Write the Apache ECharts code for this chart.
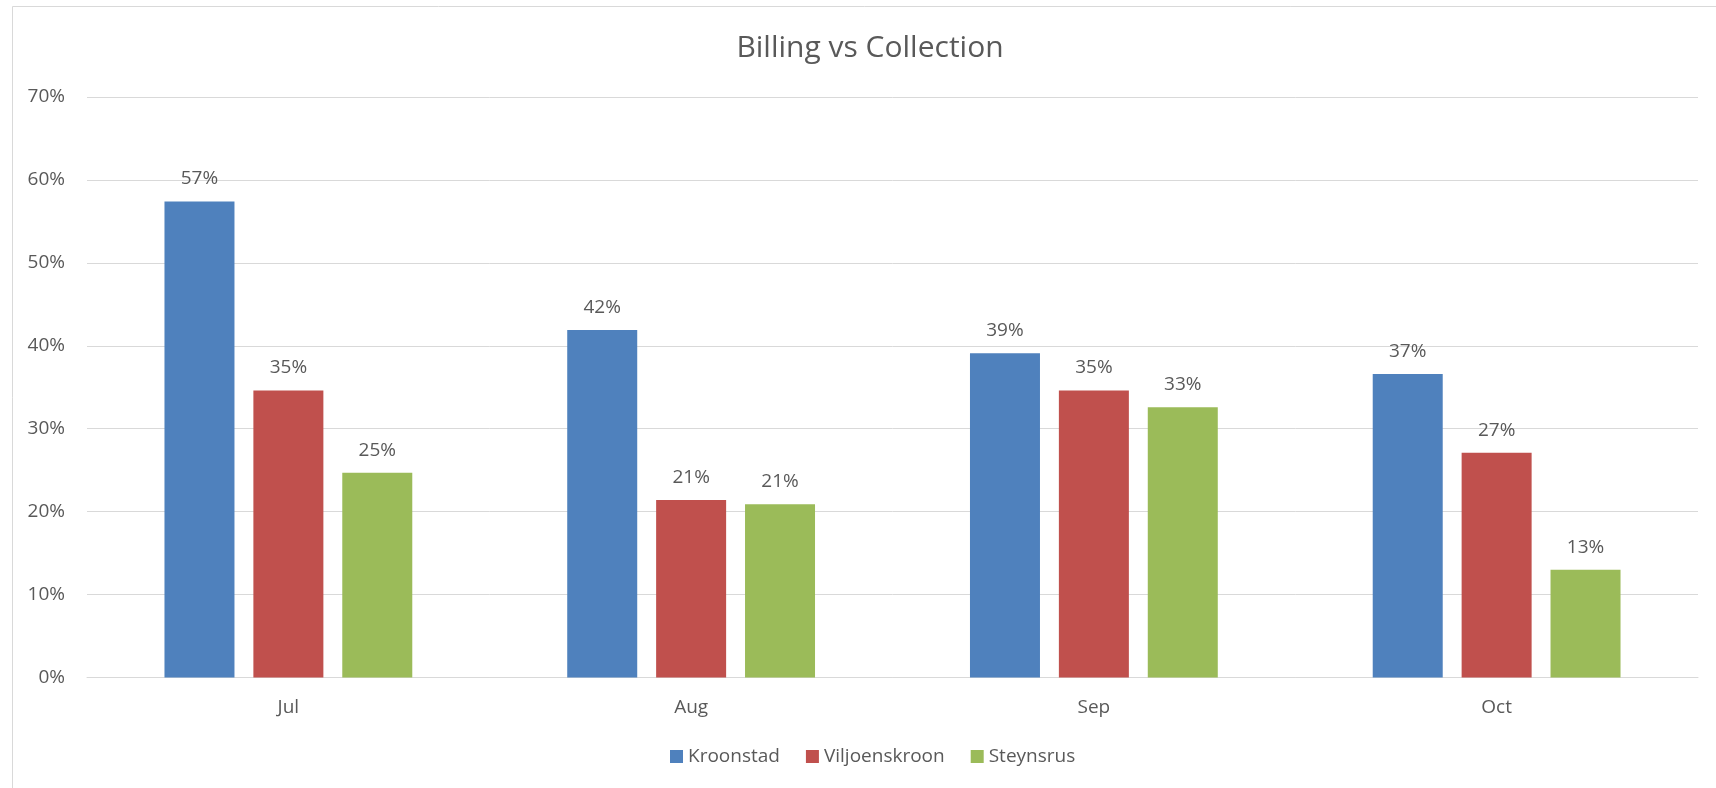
<!DOCTYPE html>
<html>
<head>
<meta charset="utf-8">
<script src="https://cdn.jsdelivr.net/npm/echarts@6/dist/echarts.min.js"></script>
<style>
html,body{margin:0;padding:0;background:#fff;}
#chart{width:1716px;height:788px;}
</style>
</head>
<body>
<div id="chart"></div>
<script>
const categories = ['Jul', 'Aug', 'Sep', 'Oct'];
const kroonstad = [57.4, 41.9, 39.1, 36.6];
const viljoenskroon = [34.6, 21.4, 34.6, 27.1];
const steynsrus = [24.7, 20.9, 32.6, 13.0];
const seriesNames = ['Kroonstad', 'Viljoenskroon', 'Steynsrus'];
const titleText = 'Billing vs Collection';

const FONT = '"Open Sans", "Liberation Sans", sans-serif';
const TXT = '#595959';
const colors = ['#4F81BD', '#C0504D', '#9BBB59'];

const chart = echarts.init(document.getElementById('chart'), null, {renderer: 'canvas'});

function mkSeries(name, data, color) {
  return {
    name: name,
    type: 'bar',
    data: data,
    barWidth: 70,
    barGap: '27%',
    itemStyle: {color: color},
    label: {
      show: true,
      position: 'top',
      distance: 13,
      color: TXT,
      fontFamily: FONT,
      fontSize: 19,
      formatter: p => Math.round(p.value) + '%'
    }
  };
}

chart.setOption({
  animation: false,
  backgroundColor: '#fff',
  color: colors,
  title: {
    text: titleText,
    left: 865,
    textAlign: 'center',
    top: 28,
    textStyle: {color: TXT, fontFamily: FONT, fontSize: 30, fontWeight: 'normal'}
  },
  legend: {
    data: seriesNames,
    left: 665,
    top: 742,
    itemWidth: 13,
    itemHeight: 13,
    itemGap: 26,
    icon: 'rect',
    textStyle: {color: TXT, fontFamily: FONT, fontSize: 19}
  },
  grid: {left: 87, right: 18, top: 97, bottom: 110.5, containLabel: false},
  xAxis: {
    type: 'category',
    data: categories,
    axisLine: {show: true, lineStyle: {color: '#d9d9d9', width: 1}},
    axisTick: {show: false},
    axisLabel: {color: TXT, fontFamily: FONT, fontSize: 19, margin: 21}
  },
  yAxis: {
    type: 'value',
    min: 0,
    max: 70,
    interval: 10,
    axisLine: {show: false},
    axisTick: {show: false},
    splitLine: {lineStyle: {color: '#d9d9d9', width: 1}},
    axisLabel: {color: TXT, fontFamily: FONT, fontSize: 19, margin: 22, formatter: '{value}%'}
  },
  graphic: [{
    type: 'rect',
    shape: {x: 12.5, y: 6.5, width: 1800, height: 900},
    style: {fill: 'none', stroke: '#d9d9d9', lineWidth: 1},
    silent: true,
    z: -1
  }],
  series: [
    mkSeries(seriesNames[0], kroonstad, colors[0]),
    mkSeries(seriesNames[1], viljoenskroon, colors[1]),
    mkSeries(seriesNames[2], steynsrus, colors[2])
  ]
});
</script>
</body>
</html>
